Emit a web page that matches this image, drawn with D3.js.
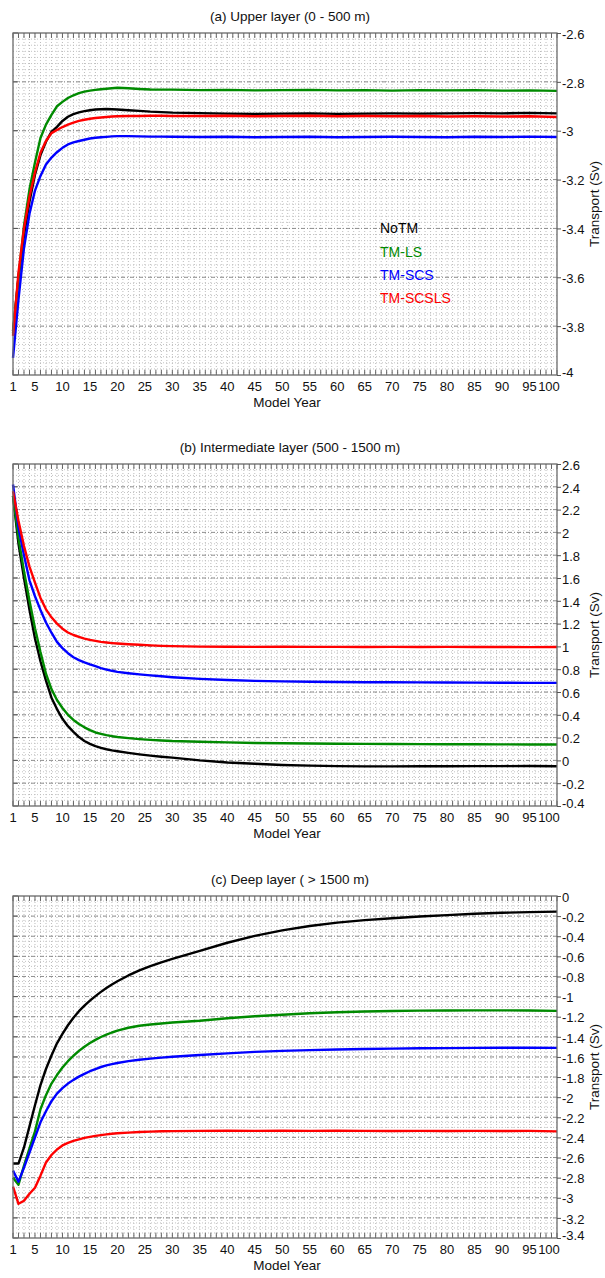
<!DOCTYPE html>
<html>
<head>
<meta charset="utf-8">
<script src="https://cdn.jsdelivr.net/npm/d3@7"></script>
<style>
  body { margin: 0; background: #fff; }
  text { font-family: "Liberation Sans", Arial, sans-serif; fill: #111; }
</style>
</head>
<body>
<svg id="chart" width="605" height="1278"></svg>
<script>
// model years sampled off the figure
var years = [1,2,3,4,5,6,7,8,9,10,11,12,13,14,15,16,17,18,19,20,22,24,26,28,30,
             35,40,45,50,55,60,65,70,75,80,85,90,95,100];
var xTicks = [1,5,10,15,20,25,30,35,40,45,50,55,60,65,70,75,80,85,90,95,100];
var seriesNames = ["NoTM", "TM-LS", "TM-SCS", "TM-SCSLS"];

// (a) upper layer 0 - 500 m
var upperNoTM = [-3.82,-3.60,-3.43,-3.29,-3.18,-3.10,-3.045,-3.005,-2.984,-2.96,-2.943,-2.932,-2.925,-2.92,-2.916,-2.913,-2.912,-2.911,-2.912,-2.913,-2.916,-2.919,-2.922,-2.924,-2.926,
                 -2.928,-2.93,-2.931,-2.93,-2.929,-2.931,-2.93,-2.929,-2.93,-2.929,-2.928,-2.929,-2.927,-2.929];
var upperLS = [-3.83,-3.60,-3.39,-3.24,-3.13,-3.03,-2.975,-2.935,-2.90,-2.882,-2.866,-2.855,-2.846,-2.840,-2.836,-2.833,-2.830,-2.828,-2.826,-2.824,-2.826,-2.829,-2.831,-2.832,-2.832,
               -2.834,-2.833,-2.835,-2.834,-2.833,-2.835,-2.834,-2.836,-2.834,-2.835,-2.834,-2.836,-2.835,-2.837];
var upperSCS = [-3.93,-3.69,-3.48,-3.34,-3.245,-3.185,-3.138,-3.11,-3.088,-3.07,-3.056,-3.048,-3.042,-3.037,-3.032,-3.029,-3.027,-3.025,-3.023,-3.022,-3.022,-3.023,-3.024,-3.024,-3.025,
                -3.026,-3.025,-3.027,-3.026,-3.025,-3.027,-3.026,-3.025,-3.026,-3.027,-3.025,-3.026,-3.024,-3.026];
var upperSCSLS = [-3.84,-3.58,-3.40,-3.27,-3.17,-3.09,-3.042,-3.01,-2.997,-2.985,-2.975,-2.967,-2.96,-2.955,-2.951,-2.948,-2.946,-2.944,-2.942,-2.941,-2.940,-2.940,-2.939,-2.939,-2.940,
                  -2.940,-2.939,-2.941,-2.940,-2.939,-2.941,-2.940,-2.941,-2.940,-2.942,-2.941,-2.942,-2.941,-2.944];

// (b) intermediate layer 500 - 1500 m
var interNoTM = [2.32,1.90,1.60,1.32,1.07,0.87,0.70,0.55,0.45,0.365,0.30,0.25,0.205,0.17,0.145,0.125,0.11,0.098,0.088,0.08,0.066,0.053,0.042,0.032,0.024,
                 0.0,-0.018,-0.03,-0.04,-0.046,-0.05,-0.052,-0.052,-0.051,-0.051,-0.05,-0.05,-0.049,-0.051];
var interLS = [2.32,1.95,1.66,1.40,1.16,0.95,0.76,0.625,0.53,0.46,0.40,0.355,0.32,0.29,0.265,0.245,0.233,0.222,0.213,0.205,0.195,0.187,0.18,0.175,0.17,
               0.163,0.158,0.153,0.15,0.148,0.146,0.145,0.144,0.143,0.142,0.142,0.141,0.14,0.14];
var interSCS = [2.42,2.04,1.80,1.58,1.44,1.32,1.21,1.12,1.04,0.985,0.94,0.905,0.88,0.86,0.842,0.826,0.81,0.797,0.786,0.777,0.765,0.755,0.746,0.738,0.73,
                0.715,0.705,0.698,0.693,0.69,0.688,0.686,0.685,0.684,0.683,0.682,0.681,0.68,0.68];
var interSCSLS = [2.36,2.10,1.88,1.70,1.56,1.425,1.325,1.255,1.20,1.155,1.122,1.10,1.083,1.068,1.057,1.048,1.04,1.034,1.029,1.025,1.019,1.014,1.009,1.005,1.002,
                  0.998,0.997,0.996,0.997,0.996,0.996,0.995,0.996,0.995,0.996,0.995,0.995,0.994,0.995];

// (c) deep layer > 1500 m
var deepNoTM = [-2.66,-2.66,-2.50,-2.29,-2.08,-1.88,-1.72,-1.585,-1.465,-1.37,-1.285,-1.21,-1.145,-1.09,-1.04,-0.995,-0.953,-0.915,-0.88,-0.848,-0.79,-0.74,-0.697,-0.66,-0.626,
                -0.545,-0.465,-0.397,-0.342,-0.298,-0.265,-0.24,-0.221,-0.204,-0.19,-0.177,-0.167,-0.16,-0.155];
var deepLS = [-2.80,-2.87,-2.68,-2.51,-2.34,-2.12,-1.98,-1.865,-1.78,-1.705,-1.642,-1.588,-1.54,-1.498,-1.462,-1.43,-1.402,-1.378,-1.357,-1.339,-1.31,-1.29,-1.277,-1.267,-1.258,
              -1.24,-1.215,-1.195,-1.18,-1.165,-1.155,-1.148,-1.143,-1.14,-1.138,-1.137,-1.137,-1.138,-1.142];
var deepSCS = [-2.73,-2.84,-2.70,-2.55,-2.40,-2.25,-2.14,-2.04,-1.965,-1.91,-1.865,-1.828,-1.796,-1.768,-1.742,-1.72,-1.70,-1.684,-1.671,-1.66,-1.642,-1.628,-1.617,-1.607,-1.598,
               -1.58,-1.565,-1.55,-1.54,-1.532,-1.526,-1.521,-1.517,-1.514,-1.512,-1.51,-1.509,-1.508,-1.51];
var deepSCSLS = [-2.89,-3.06,-3.03,-2.96,-2.90,-2.78,-2.65,-2.575,-2.52,-2.48,-2.455,-2.435,-2.42,-2.405,-2.395,-2.385,-2.377,-2.37,-2.364,-2.359,-2.352,-2.346,-2.342,-2.339,-2.337,
                 -2.335,-2.334,-2.335,-2.334,-2.335,-2.334,-2.335,-2.336,-2.335,-2.336,-2.335,-2.336,-2.335,-2.34];

var panelTitles = ["(a) Upper layer (0 - 500 m)", "(b) Intermediate layer (500 - 1500 m)", "(c) Deep layer ( > 1500 m)"];
var yDomains = [[-4, -2.6], [-0.4, 2.6], [-3.4, 0]];
var minorSteps = [0.025, 0.05, 0.05];

var colors = ["#000000", "#008a00", "#0000ff", "#ff0000"];

var panels = [
  {title: panelTitles[0], dom: yDomains[0], minor: minorSteps[0], data: [upperNoTM, upperLS, upperSCS, upperSCSLS], top: 33, legend: true},
  {title: panelTitles[1], dom: yDomains[1], minor: minorSteps[1], data: [interNoTM, interLS, interSCS, interSCSLS], top: 464},
  {title: panelTitles[2], dom: yDomains[2], minor: minorSteps[2], data: [deepNoTM, deepLS, deepSCS, deepSCSLS], top: 896}
];

var svg = d3.select("#chart");
var left = 13, right = 557, h = 342;
var x = d3.scaleLinear().domain([1, 100]).range([left, right]);
var r1 = v => Math.round(v * 1000) / 1000;

panels.forEach(function (p) {
  var y = d3.scaleLinear().domain(p.dom).range([p.top + h, p.top]);
  var g = svg.append("g");
  var nMajor = Math.round((p.dom[1] - p.dom[0]) / 0.2);
  var majors = d3.range(nMajor + 1).map(i => r1(p.dom[0] + i * 0.2));
  var nMinor = Math.round((p.dom[1] - p.dom[0]) / p.minor);
  var minors = d3.range(1, nMinor).map(i => p.dom[0] + i * p.minor);

  // dotted background grid
  g.selectAll(".vmin").data(d3.range(2, 100)).join("line")
    .attr("x1", d => x(d)).attr("x2", d => x(d))
    .attr("y1", p.top).attr("y2", p.top + h)
    .attr("stroke", "#b4b4b4").attr("stroke-width", 0.9).attr("stroke-dasharray", "1,2");
  g.selectAll(".hmin").data(minors).join("line")
    .attr("x1", left).attr("x2", right)
    .attr("y1", d => y(d)).attr("y2", d => y(d))
    .attr("stroke", "#bdbdbd").attr("stroke-width", 0.9).attr("stroke-dasharray", "1,2");
  g.selectAll(".hmaj").data(majors.slice(1, -1)).join("line")
    .attr("x1", left).attr("x2", right)
    .attr("y1", d => y(d)).attr("y2", d => y(d))
    .attr("stroke", "#858585").attr("stroke-width", 0.9).attr("stroke-dasharray", "4,2,1,2");

  // top and bottom inward ticks at every year
  g.selectAll(".tt").data(d3.range(1, 101)).join("line")
    .attr("x1", d => x(d)).attr("x2", d => x(d))
    .attr("y1", p.top).attr("y2", p.top + 5)
    .attr("stroke", "#555").attr("stroke-width", 0.9);
  g.selectAll(".bt").data(d3.range(1, 101)).join("line")
    .attr("x1", d => x(d)).attr("x2", d => x(d))
    .attr("y1", p.top + h).attr("y2", p.top + h - 5)
    .attr("stroke", "#555").attr("stroke-width", 0.9);
  // left ticks
  g.selectAll(".lt").data(majors).join("line")
    .attr("x1", left).attr("x2", left + 5)
    .attr("y1", d => y(d)).attr("y2", d => y(d))
    .attr("stroke", "#555").attr("stroke-width", 1);

  // series
  var line = d3.line().x((d, i) => x(years[i])).y(d => y(d));
  p.data.forEach(function (vals, k) {
    g.append("path").datum(vals).attr("d", line)
      .attr("fill", "none").attr("stroke", colors[k])
      .attr("stroke-width", 2.4).attr("stroke-linejoin", "round");
  });

  // frame
  g.append("rect").attr("x", left).attr("y", p.top).attr("width", right - left).attr("height", h)
    .attr("fill", "none").attr("stroke", "#6a6a6a").attr("stroke-width", 1.3);

  // right axis
  var ax = d3.axisRight(y).tickValues(majors).tickSize(4).tickPadding(1)
    .tickFormat(d => String(r1(d)));
  var axg = g.append("g").attr("transform", "translate(" + right + ",0)").call(ax);
  axg.select(".domain").remove();
  axg.selectAll("line").attr("stroke", "#555");
  axg.selectAll("text").attr("font-size", 13).attr("dy", "0.4em")
    .style("font-family", "'Liberation Sans', Arial, sans-serif").attr("fill", "#111");
  // lift the bottom label clear of the year labels
  axg.selectAll(".tick").filter(d => d === majors[0]).select("text").attr("dy", "0.1em");

  // x labels
  g.selectAll(".xl").data(xTicks).join("text")
    .attr("x", d => d === 100 ? x(d) - 8 : x(d)).attr("y", p.top + h + 16)
    .attr("text-anchor", "middle")
    .attr("font-size", 13).text(d => d);
  g.append("text").attr("x", (left + right) / 2 + 2).attr("y", p.top + h + 32)
    .attr("text-anchor", "middle").attr("font-size", 13.5).text("Model Year");

  // title
  g.append("text").attr("x", (left + right) / 2 + 5).attr("y", p.top - 12)
    .attr("text-anchor", "middle").attr("font-size", 13.5).text(p.title);

  // y title
  g.append("text")
    .attr("transform", "translate(599," + (p.top + h / 2) + ") rotate(-90)")
    .attr("text-anchor", "middle").attr("font-size", 13.5).text("Transport (Sv)");

  if (p.legend) {
    seriesNames.forEach(function (name, k) {
      g.append("text").attr("x", 380).attr("y", y(-3.4) + 5 + k * 23.3)
        .attr("font-size", 14).attr("fill", colors[k]).style("fill", colors[k]).text(name);
    });
  }
});
</script>
</body>
</html>
